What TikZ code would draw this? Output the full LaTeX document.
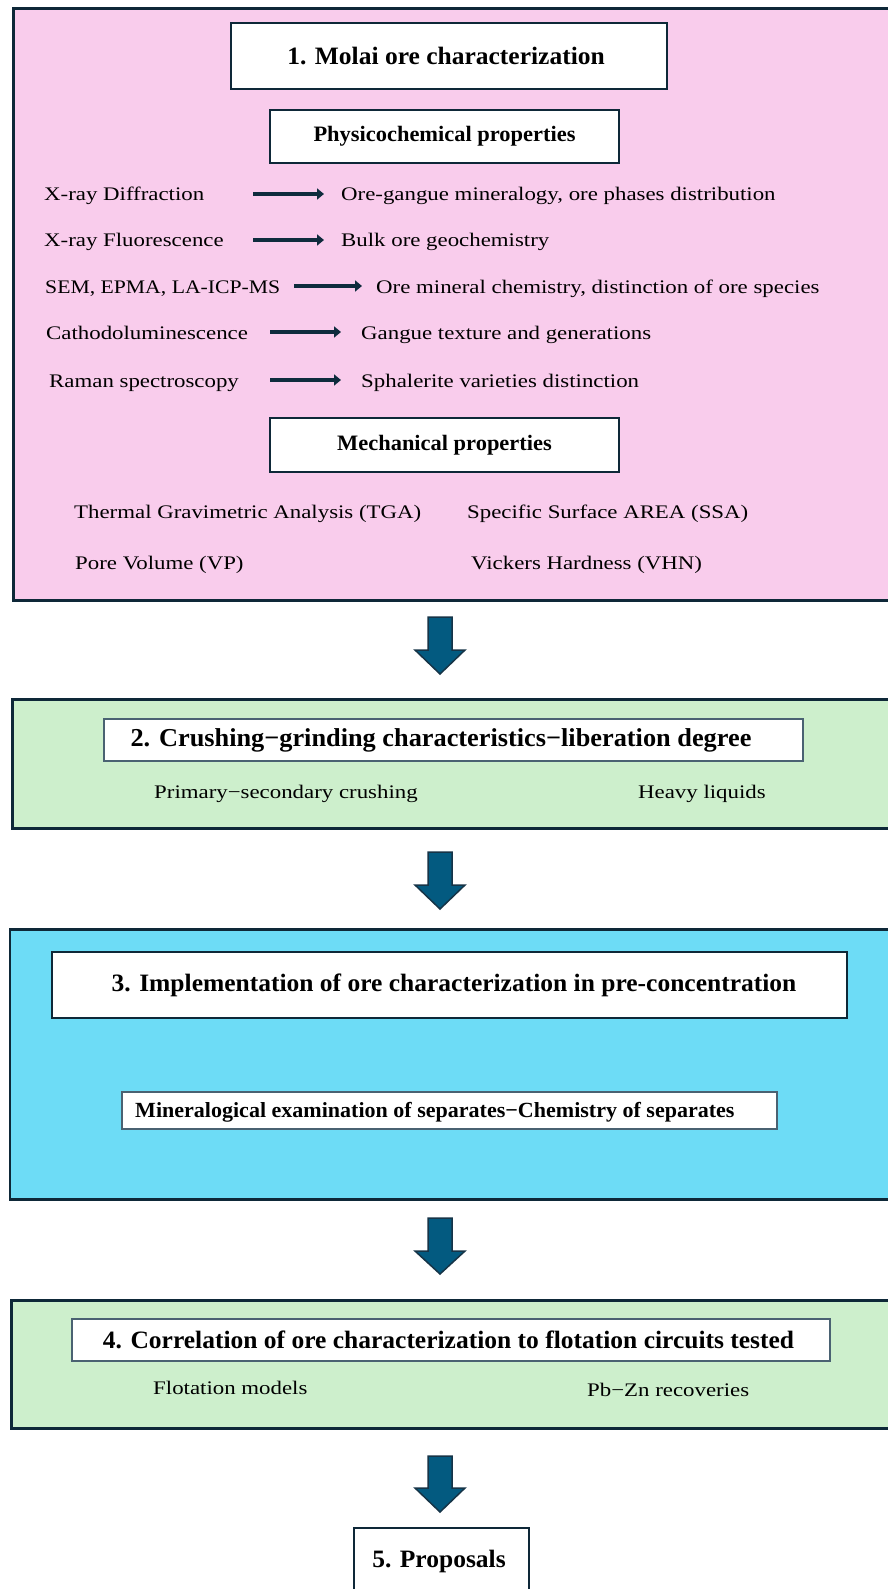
\documentclass[tikz,border=0pt]{standalone}
\usepackage{fontspec}
\setmainfont{Liberation Serif}
\newfontfamily\bodyfont{Liberation Serif}[FakeStretch=1.19]
\newfontfamily\narrowbodyfont{Liberation Serif}[FakeStretch=1.13]
\newfontfamily\titlefont{Liberation Serif}[FakeStretch=1.02]
\usetikzlibrary{arrows.meta}
\definecolor{pinkbg}{HTML}{F9CCEC}
\definecolor{greenbg}{HTML}{CDEFCC}
\definecolor{cyanbg}{HTML}{6DDCF6}
\definecolor{edge}{HTML}{0E2838}
\definecolor{thinedge}{HTML}{4A6272}
\definecolor{arrowfill}{HTML}{035A80}
\definecolor{arrowedge}{HTML}{163447}
\definecolor{smallarrow}{HTML}{0F2B3D}
\tikzset{
  panel/.style={draw=edge, line width=2.5pt, anchor=north west, inner sep=0pt},
  titlebox/.style={draw=edge, line width=2pt, fill=white, inner sep=0pt},
  thinbox/.style={draw=thinedge, line width=1.3pt, fill=white, inner sep=0pt},
  titletext/.style={inner sep=0pt, font=\titlefont\bfseries\fontsize{25}{29}\selectfont},
  subhead/.style={draw=edge, line width=2pt, fill=white, inner sep=0pt, font=\titlefont\bfseries\fontsize{22}{26}\selectfont},
  body/.style={anchor=base west, inner sep=0pt, font=\bodyfont\fontsize{19.2}{23}\selectfont},
  smallarr/.style={draw=smallarrow, line width=4pt, -{Triangle[length=7pt,width=11pt]}},
  blockarr/.style={fill=arrowfill, draw=arrowedge, line width=1.5pt, line join=miter}
}
\newcommand{\blockarrow}[4]{% x, top, headstart, tip
  \draw[blockarr] (#1-12,#2) -- (#1+12,#2) -- (#1+12,#3) -- (#1+25,#3) -- (#1,#4) -- (#1-25,#3) -- (#1-12,#3) -- cycle;}
\begin{document}
\begin{tikzpicture}[x=1pt,y=-1pt]
\useasboundingbox (0,0) rectangle (887,1589);
\fill[white] (0,0) rectangle (887,1589);

% ---------- Panel 1 ----------
\node[panel, fill=pinkbg, minimum width=885pt, minimum height=591.5pt] (p1) at (12,7.5) {};
\node[titlebox, minimum width=436pt, minimum height=66pt] (t1) at (449,56) {};
\node[titletext] (t1t) at (446,56) {1. Molai ore characterization};
\node[subhead, minimum width=349pt, minimum height=53pt] (h1) at (444.5,136.5) {Physicochemical properties};

\node[body] (l1) at (44,201) {X-ray Diffraction};
\node[body] (r1) at (341,201) {Ore-gangue mineralogy, ore phases distribution};
\coordinate (a1s) at (253,194); \coordinate (a1e) at (324,194);
\draw[smallarr] (a1s) -- (a1e);

\node[body] (l2) at (44,247) {X-ray Fluorescence};
\node[body] (r2) at (341,247) {Bulk ore geochemistry};
\coordinate (a2s) at (253,240); \coordinate (a2e) at (324,240);
\draw[smallarr] (a2s) -- (a2e);

\node[body, font=\narrowbodyfont\fontsize{19.2}{23}\selectfont] (l3) at (45,293) {SEM, EPMA, LA-ICP-MS};
\node[body] (r3) at (376,293) {Ore mineral chemistry, distinction of ore species};
\coordinate (a3s) at (294,286); \coordinate (a3e) at (362,286);
\draw[smallarr] (a3s) -- (a3e);

\node[body] (l4) at (46,339) {Cathodoluminescence};
\node[body] (r4) at (361,339) {Gangue texture and generations};
\coordinate (a4s) at (270,332); \coordinate (a4e) at (341,332);
\draw[smallarr] (a4s) -- (a4e);

\node[body] (l5) at (49,387) {Raman spectroscopy};
\node[body] (r5) at (361,387) {Sphalerite varieties distinction};
\coordinate (a5s) at (270,380); \coordinate (a5e) at (341,380);
\draw[smallarr] (a5s) -- (a5e);

\node[subhead, minimum width=349pt, minimum height=54pt] (h2) at (444.5,445) {Mechanical properties};

\node[body] (m1) at (74,518) {Thermal Gravimetric Analysis (TGA)};
\node[body] (m2) at (467,518) {Specific Surface AREA (SSA)};
\node[body] (m3) at (75,569) {Pore Volume (VP)};
\node[body] (m4) at (471,569) {Vickers Hardness (VHN)};

% ---------- Arrow 1 ----------
\blockarrow{440}{617}{650}{674}

% ---------- Panel 2 ----------
\node[panel, fill=greenbg, minimum width=886pt, minimum height=129pt] (p2) at (11,698) {};
\node[thinbox, minimum width=699pt, minimum height=42pt] (t2) at (453.5,740) {};
\node[titletext, font=\titlefont\bfseries\fontsize{25.8}{30}\selectfont] (t2t) at (441,740) {2. Crushing−grinding characteristics−liberation degree};
\node[body] (c1) at (154,798) {Primary−secondary crushing};
\node[body] (c2) at (638,798) {Heavy liquids};

% ---------- Arrow 2 ----------
\blockarrow{440}{852}{885}{909}

% ---------- Panel 3 ----------
\node[panel, fill=cyanbg, minimum width=888pt, minimum height=270pt] (p3) at (8.5,928) {};
\node[titlebox, minimum width=795pt, minimum height=66pt] (t3) at (449.5,985) {};
\node[titletext] (t3t) at (454,985) {3. Implementation of ore characterization in pre-concentration};
\node[draw=thinedge, line width=1.2pt, fill=white, minimum width=655pt, minimum height=37pt, inner sep=0pt] (s3) at (449.5,1110.5) {};
\node[anchor=base west, inner sep=0pt, font=\titlefont\bfseries\fontsize{21.6}{25}\selectfont] (s3t) at (135,1117) {Mineralogical examination of separates−Chemistry of separates};

% ---------- Arrow 3 ----------
\blockarrow{440}{1218}{1251}{1274}

% ---------- Panel 4 ----------
\node[panel, fill=greenbg, minimum width=886pt, minimum height=128pt] (p4) at (10,1299) {};
\node[thinbox, minimum width=758pt, minimum height=42pt] (t4) at (451,1340) {};
\node[titletext] (t4t) at (448.5,1340) {4. Correlation of ore characterization to flotation circuits tested};
\node[body] (f1) at (153,1394) {Flotation models};
\node[body] (f2) at (587,1396) {Pb−Zn recoveries};

% ---------- Arrow 4 ----------
\blockarrow{440}{1456}{1488}{1512}

% ---------- Box 5 ----------
\node[draw=edge, line width=2pt, fill=white, anchor=north west, minimum width=175pt, minimum height=90pt, inner sep=0pt] (b5) at (353,1527) {};
\node[titletext] (b5t) at (439,1561) {5. Proposals};

\end{tikzpicture}
\end{document}
